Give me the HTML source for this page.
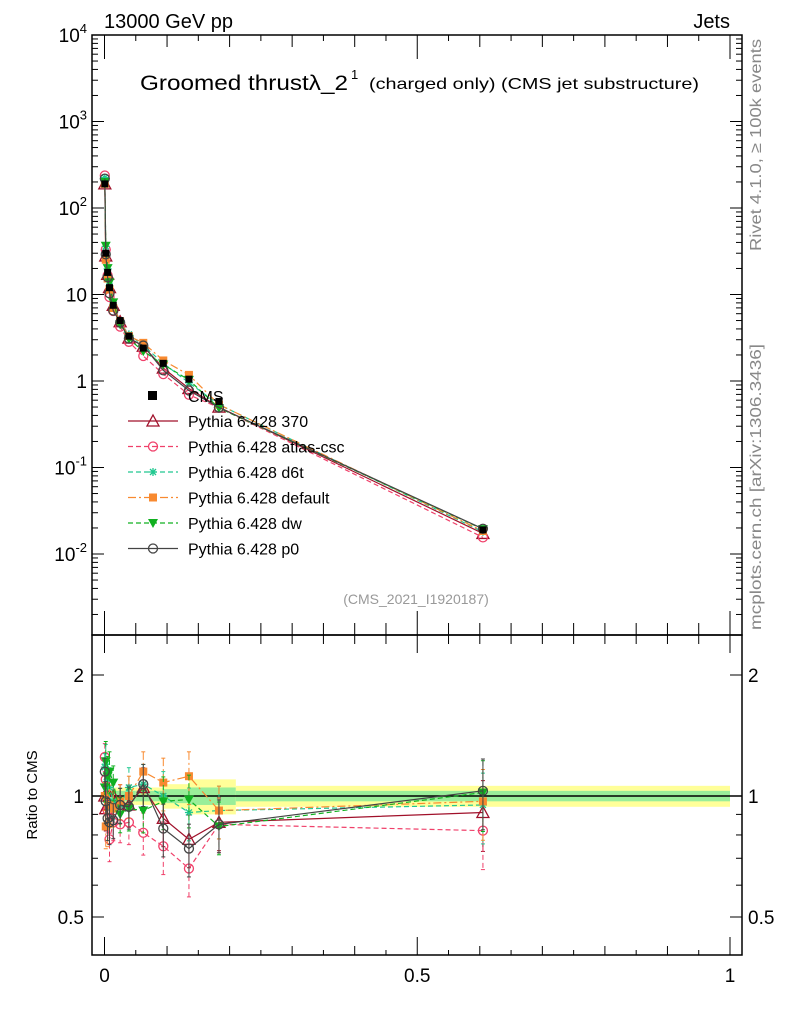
<!DOCTYPE html>
<html><head><meta charset="utf-8"><style>
body{margin:0;background:#fff}
svg{display:block;font-family:"Liberation Sans",sans-serif}
</style></head><body>
<svg id="c" width="786" height="1024" viewBox="0 0 786 1024" xmlns="http://www.w3.org/2000/svg"></svg>
<script>
const xs=[0.0005,0.002,0.005,0.008,0.014,0.025,0.039,0.062,0.094,0.135,0.183,0.605];
const cms=[190,30,18,12,7.5,5,3.3,2.4,1.6,1.05,0.58,0.019];
const r370=[1.0,0.93,0.95,1.0,1.0,0.97,0.95,1.05,0.88,0.78,0.86,0.91];
const rAtlas=[1.25,1.1,0.92,0.78,0.86,0.85,0.86,0.81,0.75,0.66,0.85,0.82];
const rD6t=[1.18,1.2,1.1,1.05,0.97,0.95,1.05,1.07,1.0,0.91,0.92,0.95];
const rDefault=[1.0,0.84,0.85,0.95,0.93,0.97,1.0,1.15,1.08,1.12,0.92,0.97];
const rDw=[1.05,1.22,1.12,1.15,1.08,0.9,0.93,0.92,0.97,0.98,0.84,1.02];
const rP0=[1.15,0.97,0.88,0.86,0.87,0.95,0.94,1.07,0.83,0.74,0.85,1.03];
const relErr=[0.08,0.12,0.12,0.12,0.1,0.1,0.12,0.12,0.15,0.15,0.15,0.2];
const bandEdges=[0,0.05,0.094,0.135,0.21,1.0];
const bandGreen=[0.03,0.03,0.04,0.05,0.03];
const bandYellow=[0.05,0.05,0.07,0.1,0.06];
const yTicksMain=["10^-2","10^-1","1","10","10^2","10^3","10^4"];
const xTickLabels=["0","0.5","1"];

const svg=document.getElementById('c');
const NS='http://www.w3.org/2000/svg';
function el(t,a,p){const e=document.createElementNS(NS,t);for(const k in a)e.setAttribute(k,a[k]);(p||svg).appendChild(e);return e;}
const X=v=>104.5+625.5*v;
const Y=v=>381-86.5*Math.log10(v);
const R=v=>796-121*Math.log2(v);
const L=92,Rt=742,T=35,M=635,B=955;

for(let i=0;i<bandGreen.length;i++){
  let b=el('rect',{x:X(bandEdges[i]),y:R(1+bandYellow[i]),width:X(bandEdges[i+1])-X(bandEdges[i]),height:R(1-bandYellow[i])-R(1+bandYellow[i]),fill:'#ffff99'});
  
  
  let g=el('rect',{x:X(bandEdges[i]),y:R(1+bandGreen[i]),width:X(bandEdges[i+1])-X(bandEdges[i]),height:R(1-bandGreen[i])-R(1+bandGreen[i]),fill:'#99ee99'});
  
  
}
el('line',{x1:L,x2:Rt,y1:R(1),y2:R(1),stroke:'#000','stroke-width':1.5});

const series=[
 {n:'Pythia 6.428 370',r:r370,c:'#a0102a',d:'',m:'tri'},
 {n:'Pythia 6.428 atlas-csc',r:rAtlas,c:'#f0406a',d:'5,3',m:'circ'},
 {n:'Pythia 6.428 d6t',r:rD6t,c:'#20c890',d:'5,3',m:'star'},
 {n:'Pythia 6.428 default',r:rDefault,c:'#f88a30',d:'8,3,2,3',m:'sq'},
 {n:'Pythia 6.428 dw',r:rDw,c:'#10b020',d:'5,3',m:'tdown'},
 {n:'Pythia 6.428 p0',r:rP0,c:'#444444',d:'',m:'circ2'}
];
function marker(m,x,y,c,g){
  if(m==='tri')return el('path',{d:`M${x},${y-6}L${x+6},${y+5}L${x-6},${y+5}Z`,fill:'none',stroke:c,'stroke-width':1.3},g);
  if(m==='circ'||m==='circ2')return el('circle',{cx:x,cy:y,r:4.5,fill:'none',stroke:c,'stroke-width':1.3},g);
  if(m==='star')return el('path',{d:`M${x-4},${y}H${x+4}M${x},${y-4}V${y+4}M${x-3},${y-3}L${x+3},${y+3}M${x-3},${y+3}L${x+3},${y-3}`,stroke:c,'stroke-width':1.3},g);
  if(m==='sq')return el('rect',{x:x-4,y:y-4,width:8,height:8,fill:c},g);
  if(m==='tdown')return el('path',{d:`M${x-5},${y-4}L${x+5},${y-4}L${x},${y+5}Z`,fill:c},g);
}
function clipG(y0,y1){const g=el('g',{});const id='cl'+y0;const cp=el('clipPath',{id:id});el('rect',{x:L,y:y0,width:Rt-L,height:y1-y0},cp);g.setAttribute('clip-path','url(#'+id+')');return g;}
series.forEach((s,k)=>{
  const gm=clipG(T,M);
  const gr=clipG(M,B);
  const vals=cms.map((v,i)=>v*s.r[i]);
  el('path',{d:xs.map((x,i)=>(i?'L':'M')+X(x)+','+Y(vals[i])).join(''),fill:'none',stroke:s.c,'stroke-width':1.2,'stroke-dasharray':s.d},gm);
  el('path',{d:xs.map((x,i)=>(i?'L':'M')+X(x)+','+R(s.r[i])).join(''),fill:'none',stroke:s.c,'stroke-width':1.2,'stroke-dasharray':s.d},gr);
  xs.forEach((x,i)=>{
    const e=relErr[i];
    el('line',{x1:X(x),x2:X(x),y1:R(s.r[i]*(1+e)),y2:R(s.r[i]*(1-e)),stroke:s.c,'stroke-width':1,'stroke-dasharray':s.d},gr);
    el('line',{x1:X(x)-2,x2:X(x)+2,y1:R(s.r[i]*(1+e)),y2:R(s.r[i]*(1+e)),stroke:s.c},gr);
    el('line',{x1:X(x)-2,x2:X(x)+2,y1:R(s.r[i]*(1-e)),y2:R(s.r[i]*(1-e)),stroke:s.c},gr);
    marker(s.m,X(x),Y(vals[i]),s.c,gm);
    marker(s.m,X(x),R(s.r[i]),s.c,gr);
  });
});
const gd=clipG(T,M);
xs.forEach((x,i)=>{el('rect',{x:X(x)-3.5,y:Y(cms[i])-3.5,width:7,height:7,fill:'#000'},gd);});

['main-frame','ratio-frame'].forEach((n,i)=>{const f=el('rect',{x:L,y:i?M:T,width:Rt-L,height:i?B-M:M-T,fill:'none',stroke:'#000','stroke-width':1.5});});
for(let d=-3;d<=4;d++){for(let m=1;m<10;m++){const v=m*Math.pow(10,d);const y=Y(v);if(y<T||y>M)continue;const len=m===1?12:6;
 el('line',{x1:L,x2:L+len,y1:y,y2:y,stroke:'#000'});el('line',{x1:Rt,x2:Rt-len,y1:y,y2:y,stroke:'#000'});}}
yTicksMain.forEach((lab,i)=>{const d=i-2;const y=Y(Math.pow(10,d));const t=el('text',{x:L-5,y:y+7,'text-anchor':'end','font-size':19});
 if(lab.includes('^')){const [b,e]=lab.split('^');t.textContent=b;const s=el('tspan',{dy:-9,'font-size':13},t);s.textContent=e;}else t.textContent=lab;
 });
[0.5,0.6,0.7,0.8,0.9,1,2].forEach(v=>{const y=R(v);const len=(v===0.5||v===1||v===2)?12:6;el('line',{x1:L,x2:L+len,y1:y,y2:y,stroke:'#000'});el('line',{x1:Rt,x2:Rt-len,y1:y,y2:y,stroke:'#000'});});
[[2,'2'],[1,'1'],[0.5,'0.5']].forEach(([v,l])=>{const a=el('text',{x:L-8,y:R(v)+7,'text-anchor':'end','font-size':19});a.textContent=l;
 const b=el('text',{x:Rt+6,y:R(v)+7,'font-size':19});b.textContent=l;});
for(let i=0;i<=20;i++){const v=i*0.05;const len=i%10===0?24:(i%2===0?12:6);const x=X(v);
 el('line',{x1:x,x2:x,y1:B,y2:B-(i%10===0?18:(i%2===0?9:5)),stroke:'#000'});el('line',{x1:x,x2:x,y1:M,y2:M-(i%10===0?24:12),stroke:'#000'});
 el('line',{x1:x,x2:x,y1:T,y2:T+len,stroke:'#000'});el('line',{x1:x,x2:x,y1:M,y2:M+(i%10===0?18:9),stroke:'#000'});}
xTickLabels.forEach((l,i)=>{const t=el('text',{x:X(i*0.5),y:982,'text-anchor':'middle','font-size':19});t.textContent=l;});

function txt(s,a,n){const t=el('text',a);t.textContent=s;return t;}
txt('13000 GeV pp',{x:104,y:28,'font-size':20},'energy-label');
txt('Jets',{x:730,y:28,'font-size':20,'text-anchor':'end'},'process-label');
txt('Groomed thrust\u03bb_2',{x:140,y:90,'font-size':21,textLength:208,lengthAdjust:'spacingAndGlyphs'},'plot-title');
txt('1',{x:351,y:79,'font-size':13},'plot-title-superscript');
txt('(charged only) (CMS jet substructure)',{x:369,y:89,'font-size':16,textLength:330,lengthAdjust:'spacingAndGlyphs'},'plot-subtitle');
txt('(CMS_2021_I1920187)',{x:416,y:604,'font-size':14,fill:'#999','text-anchor':'middle'},'analysis-id');
txt('Ratio to CMS',{x:0,y:0,'font-size':15,transform:'translate(37,795) rotate(-90)','text-anchor':'middle'},'ratio-y-axis-title');
txt('Rivet 4.1.0, \u2265 100k events',{x:0,y:0,'font-size':16,fill:'#888',transform:'translate(761,145) rotate(-90)','text-anchor':'middle',textLength:212,lengthAdjust:'spacingAndGlyphs'},'rivet-version');
txt('mcplots.cern.ch [arXiv:1306.3436]',{x:0,y:0,'font-size':16,fill:'#888',transform:'translate(761,487) rotate(-90)','text-anchor':'middle',textLength:286,lengthAdjust:'spacingAndGlyphs'},'mcplots-credit');
const lg=el('g',{});
el('rect',{x:148,y:391,width:9,height:9,fill:'#000'},lg);
txt('CMS',{x:188,y:402,'font-size':16},'legend-entry-cms');
series.forEach((s,i)=>{const y=421+25.5*i;el('line',{x1:128,x2:178,y1:y,y2:y,stroke:s.c,'stroke-width':1.3,'stroke-dasharray':s.d},lg);marker(s.m,153,y,s.c,lg);
 txt(s.n,{x:188,y:y+6,'font-size':16},'legend-entry-'+i);});
</script>
</body></html>
